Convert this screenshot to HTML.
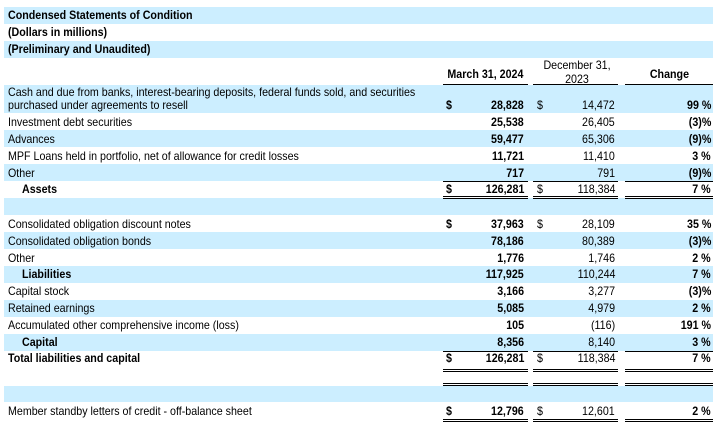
<!DOCTYPE html>
<html><head><meta charset="utf-8"><style>
body{margin:0;width:716px;height:428px;background:#fff;position:relative;overflow:hidden;font-family:"Liberation Sans",Arial,sans-serif;font-size:12px;color:#000}
.bg{position:absolute;left:4px;width:709px;background:#cceeff}
.t{position:absolute;white-space:nowrap;transform:scaleX(0.89);transform-origin:left center;line-height:14px}
.r{position:absolute;white-space:nowrap;transform:scaleX(0.89);transform-origin:right center;line-height:14px;text-align:right}
.b{font-weight:bold}
.ln{position:absolute;height:0;border-top:1px solid #000}
.dl{position:absolute;height:1px;border-top:1px solid #000;border-bottom:1px solid #000}
</style></head><body>
<div class="bg" style="top:7px;height:17px"></div>
<div class="bg" style="top:41px;height:17px"></div>
<div class="bg" style="top:85px;height:28px"></div>
<div class="bg" style="top:130px;height:17px"></div>
<div class="bg" style="top:164px;height:17px"></div>
<div class="bg" style="top:198px;height:17px"></div>
<div class="bg" style="top:232px;height:17px"></div>
<div class="bg" style="top:266px;height:17px"></div>
<div class="bg" style="top:300px;height:17px"></div>
<div class="bg" style="top:334px;height:17px"></div>
<div class="bg" style="top:386px;height:16px"></div>

<div class="t b" style="left:8px;top:8px">Condensed Statements of Condition</div>
<div class="t b" style="left:8px;top:25px">(Dollars in millions)</div>
<div class="t b" style="left:8px;top:42px">(Preliminary and Unaudited)</div>

<div class="r b" style="right:193px;top:67px">March 31, 2024</div>
<div class="r" style="right:94px;top:58px;width:90px;text-align:center;transform-origin:center">December 31,<br>2023</div>
<div class="r b" style="right:27px;top:67px">Change</div>
<div class="ln" style="left:443px;width:85px;top:84px"></div>
<div class="ln" style="left:533px;width:85px;top:84px"></div>
<div class="ln" style="left:625px;width:88px;top:84px"></div>

<div class="t" style="left:8px;top:85px">Cash and due from banks, interest-bearing deposits, federal funds sold, and securities</div>
<div class="t" style="left:8px;top:98px">purchased under agreements to resell</div>

<div id="rows"></div>
<script>
var rows=[
[98,"","$","28,828","$","14,472","99 %",0],
[115,"Investment debt securities","","25,538","","26,405","(3)%",0],
[132,"Advances","","59,477","","65,306","(9)%",0],
[149,"MPF Loans held in portfolio, net of allowance for credit losses","","11,721","","11,410","3 %",0],
[166,"Other","","717","","791","(9)%",0],
[182,"Assets","$","126,281","$","118,384","7 %",1],
[217,"Consolidated obligation discount notes","$","37,963","$","28,109","35 %",0],
[234,"Consolidated obligation bonds","","78,186","","80,389","(3)%",0],
[251,"Other","","1,776","","1,746","2 %",0],
[267,"Liabilities","","117,925","","110,244","7 %",1],
[284,"Capital stock","","3,166","","3,277","(3)%",0],
[301,"Retained earnings","","5,085","","4,979","2 %",0],
[318,"Accumulated other comprehensive income (loss)","","105","","(116)","191 %",0],
[335,"Capital","","8,356","","8,140","3 %",1],
[351,"Total liabilities and capital","$","126,281","$","118,384","7 %",2],
[404,"Member standby letters of credit - off-balance sheet","$","12,796","$","12,601","2 %",0]];
var h="";
rows.forEach(function(r){
 var y=r[0];
 if(r[1]){var ind=r[7]==1?"left:22px;":"left:8px;";h+='<div class="t'+(r[7]?' b':'')+'" style="'+ind+'top:'+y+'px">'+r[1]+'</div>';}
 if(r[2])h+='<div class="t b" style="left:446px;top:'+y+'px">$</div>';
 h+='<div class="r b" style="right:192px;top:'+y+'px">'+r[3]+'</div>';
 if(r[4])h+='<div class="t" style="left:537px;top:'+y+'px">$</div>';
 h+='<div class="r" style="right:101px;top:'+y+'px">'+r[5]+'</div>';
 h+='<div class="r b" style="right:5px;top:'+y+'px">'+r[6]+'</div>';
});
function cols(y,cls){return '<div class="'+cls+'" style="left:443px;width:85px;top:'+y+'px"></div><div class="'+cls+'" style="left:533px;width:85px;top:'+y+'px"></div><div class="'+cls+'" style="left:625px;width:88px;top:'+y+'px"></div>';}
h+=cols(181,"ln")+cols(196,"dl")+cols(351,"ln")+cols(369,"dl")+cols(383,"dl")+cols(419,"dl");
document.getElementById("rows").innerHTML=h;
</script>
</body></html>
